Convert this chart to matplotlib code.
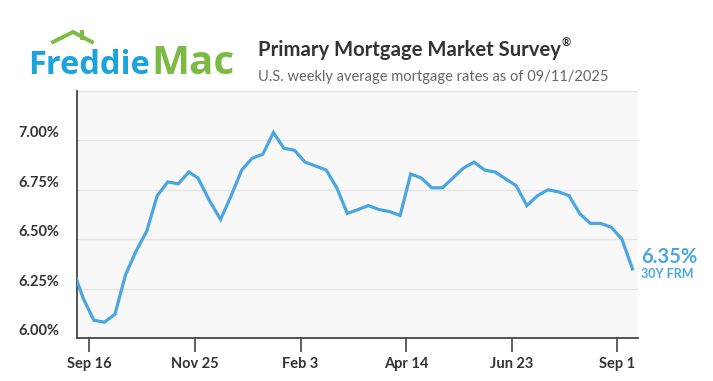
import matplotlib
matplotlib.use("Agg")
import matplotlib.pyplot as plt
from matplotlib import font_manager
from matplotlib.lines import Line2D
import pandas as pd

# weekly 30Y fixed rate
dates = ['2024-09-05', '2024-09-12', '2024-09-19', '2024-09-26', '2024-10-03',
         '2024-10-10', '2024-10-17', '2024-10-24', '2024-10-31', '2024-11-07',
         '2024-11-14', '2024-11-21', '2024-11-27', '2024-12-05', '2024-12-12',
         '2024-12-19', '2024-12-26', '2025-01-02', '2025-01-09', '2025-01-16',
         '2025-01-23', '2025-01-30', '2025-02-06', '2025-02-13', '2025-02-20',
         '2025-02-27', '2025-03-06', '2025-03-13', '2025-03-20', '2025-03-27',
         '2025-04-03', '2025-04-10', '2025-04-17', '2025-04-24', '2025-05-01',
         '2025-05-08', '2025-05-15', '2025-05-22', '2025-05-29', '2025-06-05',
         '2025-06-12', '2025-06-18', '2025-06-26', '2025-07-03', '2025-07-10',
         '2025-07-17', '2025-07-24', '2025-07-31', '2025-08-07', '2025-08-14',
         '2025-08-21', '2025-08-28', '2025-09-04', '2025-09-11']
rates = [6.35, 6.20, 6.09, 6.08, 6.12, 6.32, 6.44, 6.54, 6.72, 6.79,
         6.78, 6.84, 6.81, 6.69, 6.60, 6.72, 6.85, 6.91, 6.93, 7.04,
         6.96, 6.95, 6.89, 6.87, 6.85, 6.76, 6.63, 6.65, 6.67, 6.65,
         6.64, 6.62, 6.83, 6.81, 6.76, 6.76, 6.81, 6.86, 6.89, 6.85,
         6.84, 6.81, 6.77, 6.67, 6.72, 6.75, 6.74, 6.72, 6.63, 6.58,
         6.58, 6.56, 6.50, 6.35]
y_ticks = [6.00, 6.25, 6.50, 6.75, 7.00]
x_tick_dates = ['2024-09-16', '2024-11-25', '2025-02-03', '2025-04-14', '2025-06-23', '2025-09-01']
x_tick_labels = ['Sep 16', 'Nov 25', 'Feb 3', 'Apr 14', 'Jun 23', 'Sep 1']

title = 'Primary Mortgage Market Survey'
subtitle = 'U.S. weekly average mortgage rates as of 09/11/2025'
series_label = '30Y FRM'

BLUE = '#4aa6e2'
LOGO_BLUE = '#1ba3dd'
LOGO_GREEN = '#7cbb43'
DARK = '#333333'


def pick(*names):
    have = {f.name for f in font_manager.fontManager.ttflist}
    for n in names:
        if n in have:
            return n
    return 'DejaVu Sans'


lab = pick('Lato', 'Roboto')
logo_font = pick('Open Sans', 'Lato')

W, H = 713, 381
fig = plt.figure(figsize=(W / 100, H / 100), dpi=100)
fig.patch.set_facecolor('white')


def px(x, y):
    return x / W, 1 - y / H


def fit(t, width):
    # scale font size so the text is `width` pixels wide
    fig.canvas.draw()
    w = t.get_window_extent().width
    t.set_fontsize(t.get_fontsize() * width / w)
    fig.canvas.draw()
    return t.get_window_extent()


ax = fig.add_axes([77 / W, 1 - 338 / H, (638 - 77) / W, (338 - 91) / H])
ax.set_facecolor('#f8f8f8')

d = pd.to_datetime(dates)
ax.plot(d, rates, color=BLUE, lw=2.3, solid_joinstyle='miter', zorder=3)

ax.set_xlim(pd.Timestamp('2024-09-07 20:00'), pd.Timestamp('2025-09-14 16:00'))
ax.set_ylim(6.00, 7.25)

ax.set_yticks(y_ticks + [7.25])
ax.set_yticklabels([])
for v in y_ticks:
    ax.text(-0.032, v, f'{v:.2f}%', transform=ax.get_yaxis_transform(),
            ha='right', va='bottom', fontsize=10.5, fontweight='bold',
            family=lab, color=DARK)
ax.yaxis.grid(True, color='#e4e4e4', lw=1)
ax.tick_params(axis='y', length=0)

ax.set_xticks(pd.to_datetime(x_tick_dates))
ax.set_xticklabels(x_tick_labels, fontsize=10.5, fontweight='bold',
                   family=lab, color=DARK)
ax.tick_params(axis='x', length=10, width=1.2, color='#444444', pad=4)

for s in ['top', 'right']:
    ax.spines[s].set_visible(False)
for s in ['left', 'bottom']:
    ax.spines[s].set_color('#444444')
    ax.spines[s].set_linewidth(1.3)

# end label
ax.annotate(f'{rates[-1]:.2f}%', xy=(d[-1], rates[-1]), xytext=(9, 6),
            textcoords='offset pixels', ha='left', va='baseline',
            fontsize=14.5, fontweight='bold', family=lab, color=BLUE,
            annotation_clip=False)
ax.annotate(series_label, xy=(d[-1], rates[-1]), xytext=(9, -9),
            textcoords='offset pixels', ha='left', va='baseline',
            fontsize=9, fontweight='bold', family=lab, color=BLUE,
            annotation_clip=False)

# header
tt = fig.text(*px(258, 56.5), title, fontsize=15, fontweight='bold', family=lab,
              color=DARK, va='baseline')
bb = fit(tt, 304)
fig.text(bb.x1 / W + 1 / W, 1 - 47 / H, '\u00ae', fontsize=8, fontweight='bold',
         family=lab, color=DARK, va='baseline')
st = fig.text(*px(258, 80.5), subtitle, fontsize=11.5, family=lab,
              color='#666666', va='baseline')
fit(st, 351)

# logo
t1 = fig.text(*px(28, 74), 'Freddie', fontsize=22, fontweight='bold',
              family=logo_font, color=LOGO_BLUE, va='baseline')
bb = fit(t1, 122)
t2 = fig.text(*px(151, 74), 'Mac', fontsize=t1.get_fontsize(), fontweight='bold',
              family=logo_font, color=LOGO_GREEN, va='baseline')
fit(t2, 83)
rx = [53, 73, 92]
ry = [42, 32, 42]
fig.add_artist(Line2D([x / W for x in rx], [1 - y / H for y in ry],
                      color=LOGO_GREEN, lw=2.8, solid_joinstyle='miter'))
fig.add_artist(Line2D([82 / W, 82 / W], [1 - 32 / H, 1 - 37.5 / H],
                      color=LOGO_GREEN, lw=2.8))

fig.savefig('out.png', dpi=100)
